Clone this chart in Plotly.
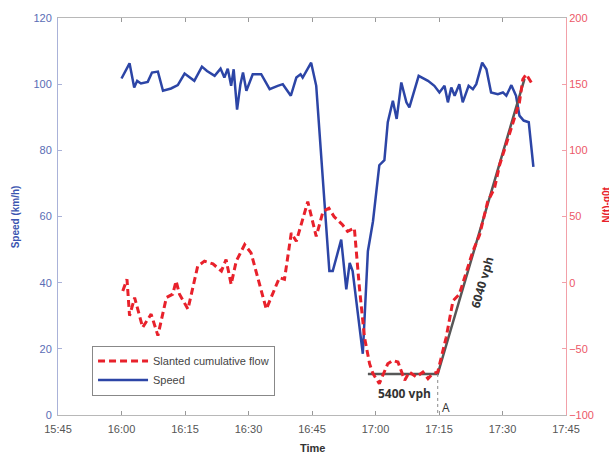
import plotly.graph_objects as go
import pandas as pd

# ---- data (minutes after 16:00) ----
speed_min = [0, 1.9, 3, 3.7, 4.6, 6.2, 7.2, 8.6, 9.8, 11.7, 13.3, 14.9, 17.2, 19, 20.2, 22, 23.4, 24.3,
             25.1, 25.9, 26.5, 27.3, 28.1, 28.7, 29.5, 31, 33, 35, 36.9, 38.1, 40, 41.3, 42.3, 42.8,
             44.8, 46, 49.1, 49.9, 51.9, 53.1, 53.9, 54.6, 57, 58.2, 59.4, 60.9, 62.1, 62.9, 64.1, 65,
             66.1, 67.3, 68.0, 70.2, 72.4, 73.9, 75.1, 76.3, 77.1, 77.9, 78.7, 79.8, 80.6, 82.0, 83.0,
             83.8, 85.2, 86.2, 87.3, 88.9, 90.1, 90.9, 92.1, 93.2, 94.0, 95.0, 96.2, 97.3]
speed_kmh = [101.7, 106.3, 99, 101, 100.2, 100.7, 103.5, 103.8, 98, 98.7, 99.7, 103.2, 101, 105.3, 104,
             102.5, 104.7, 102, 104.7, 99.5, 104.5, 92.3, 100, 103.5, 98, 103, 103, 98.5, 99.5, 100,
             96.5, 102, 103, 102, 106.5, 99.5, 43.5, 43.5, 53, 38, 46, 43.5, 18.5, 49.5, 58.5, 75.5, 77,
             88.5, 95, 89.5, 100.5, 94.5, 93, 102.5, 101, 99.5, 97.5, 99.5, 94.5, 99, 96.5, 100, 94.5,
             99.5, 98.5, 100, 106.5, 104.5, 97.5, 97, 97.5, 96.5, 99.7, 96.5, 90.5, 89, 88.5, 75]

flow_min = [0.3, 1.3, 1.9, 3.1, 5, 7, 8.6, 10.6, 12.1, 12.9, 13.7, 15.7, 18, 19.6, 21.6, 23.6, 24.7,
            25.9, 27.1, 29.1, 30.6, 34.2, 37.3, 38.5, 40.1, 41.3, 44, 46, 47.6, 49, 50.2, 52.2, 53.4,
            55, 56.2, 57.4, 58.6, 59.4, 60.9, 62.9, 64.1, 65.3, 66.9, 68.0, 69.6, 71.2, 72.4, 73.5,
            74.7, 76.7, 78.3, 79.8, 83.0, 84.6, 86.5, 88.1, 89.3, 91.3, 92.8, 94.0, 94.8, 95.6, 96.8]
flow_val = [-6.25, 2.5, -25, -11.3, -33.8, -23.8, -40, -11.3, -8.7, 1.25, -8.7, -20, 12.5, 16.25, 14.2,
            8.75, 17.5, -1.25, 16.25, 28.75, 22.5, -20, 3.75, 2.5, 37.5, 31.25, 61.25, 35, 53.75, 56.25,
            50, 43.75, 38.75, 41.25, -3.75, -41.25, -61.25, -68.75, -76.25, -61.25, -58.75, -60,
            -73.75, -67.5, -71.25, -67.5, -72.5, -68.75, -67.5, -41.25, -13.75, -8.75, 23.75, 36.25,
            61.25, 71.25, 88.75, 108.75, 123.75, 136.25, 153.75, 157.5, 151.25]

fit_min = [58.2, 74.7, 95.2]
fit_val = [-69, -69, 154]
marker_min = [74.7, 74.7]
marker_val = [-69, -100]

x_tick_labels = ["15:45", "16:00", "16:15", "16:30", "16:45", "17:00", "17:15", "17:30", "17:45"]

base = pd.Timestamp("2020-01-01 16:00:00")


def to_t(mins):
    return [base + pd.Timedelta(minutes=m) for m in mins]


tick_vals = [pd.Timestamp("2020-01-01 " + s) for s in x_tick_labels]

BLUE = "#2c45a6"
RED = "#e8212b"
GREY = "#575757"

fig = go.Figure()
fig.add_trace(go.Scatter(x=to_t(speed_min), y=speed_kmh, mode="lines", name="Speed",
                         line=dict(color=BLUE, width=2.5), legendrank=2))
fig.add_trace(go.Scatter(x=to_t(fit_min), y=fit_val, mode="lines", yaxis="y2", showlegend=False,
                         line=dict(color=GREY, width=2.5)))
fig.add_trace(go.Scatter(x=to_t(marker_min), y=marker_val, mode="lines", yaxis="y2", showlegend=False,
                         line=dict(color="#888888", width=1, dash="dot")))
fig.add_trace(go.Scatter(x=to_t(flow_min), y=flow_val, mode="lines", yaxis="y2",
                         name="Slanted cumulative flow", legendrank=1,
                         line=dict(color=RED, width=3, dash="7px,4px")))

FONT = "Liberation Sans"
fig.update_layout(
    width=609, height=454,
    margin=dict(l=58, r=43, t=15, b=39),
    paper_bgcolor="white", plot_bgcolor="white",
    font=dict(family=FONT, size=11, color="#444"),
    xaxis=dict(type="date", range=[tick_vals[0], tick_vals[-1]], tickvals=tick_vals,
               ticktext=x_tick_labels, showgrid=False, zeroline=False,
               showline=True, linecolor="#b8b8b8", linewidth=1, mirror="ticks",
               ticks="inside", ticklen=4, tickcolor="#999", ticklabelstandoff=4,
               tickfont=dict(size=11, color="#555")),
    yaxis=dict(range=[0, 120], dtick=20, showgrid=False, zeroline=False,
               showline=True, linecolor="#aab2d8", linewidth=1,
               ticks="inside", ticklen=4, tickcolor="#aab2d8", ticklabelstandoff=3,
               tickfont=dict(size=11, color="#5a6db5")),
    yaxis2=dict(range=[-100, 200], dtick=50, overlaying="y", side="right", showgrid=False,
                zeroline=False, showline=True, linecolor="#f2a0a8", linewidth=1,
                ticks="inside", ticklen=4, tickcolor="#f2a0a8",
                tickfont=dict(size=11, color="#ec5868")),
    legend=dict(x=0.067, y=0.175, xanchor="left", yanchor="top", bgcolor="white",
                bordercolor="#888", borderwidth=1, itemwidth=50,
                font=dict(size=11, color="#444"), tracegroupgap=0),
    showlegend=True,
)

fig.add_annotation(text="<b>Speed (km/h)</b>", xref="paper", yref="paper", x=-0.083, y=0.5,
                   xanchor="center", yanchor="middle",
                   showarrow=False, textangle=-90, font=dict(size=10, color="#3b55b0", family=FONT))
fig.add_annotation(text="<b>Time</b>", xref="paper", yref="paper", x=0.5, y=-0.082,
                   xanchor="center", yanchor="middle",
                   showarrow=False, font=dict(size=11, color="#333", family=FONT))
fig.add_annotation(text="<b>N(t)-q0t</b>", xref="paper", yref="paper", x=1.079, y=0.53,
                   xanchor="center", yanchor="middle",
                   showarrow=False, textangle=-90, font=dict(size=10, color=RED, family=FONT))
fig.add_annotation(text="<b>5400 vph</b>", x=base + pd.Timedelta(minutes=66.8), y=-84, yref="y2",
                   showarrow=False, font=dict(size=12, color="#333", family="Open Sans"))
fig.add_annotation(text="A", x=base + pd.Timedelta(minutes=76.6), y=-94, yref="y2",
                   showarrow=False, font=dict(size=12, color="#333", family="Open Sans"))
fig.add_annotation(text="<b>6040 vph</b>", x=base + pd.Timedelta(minutes=85.2), y=0, yref="y2",
                   showarrow=False, textangle=-74, font=dict(size=12, color="#333", family="Open Sans"))

fig.write_html("out.html")
